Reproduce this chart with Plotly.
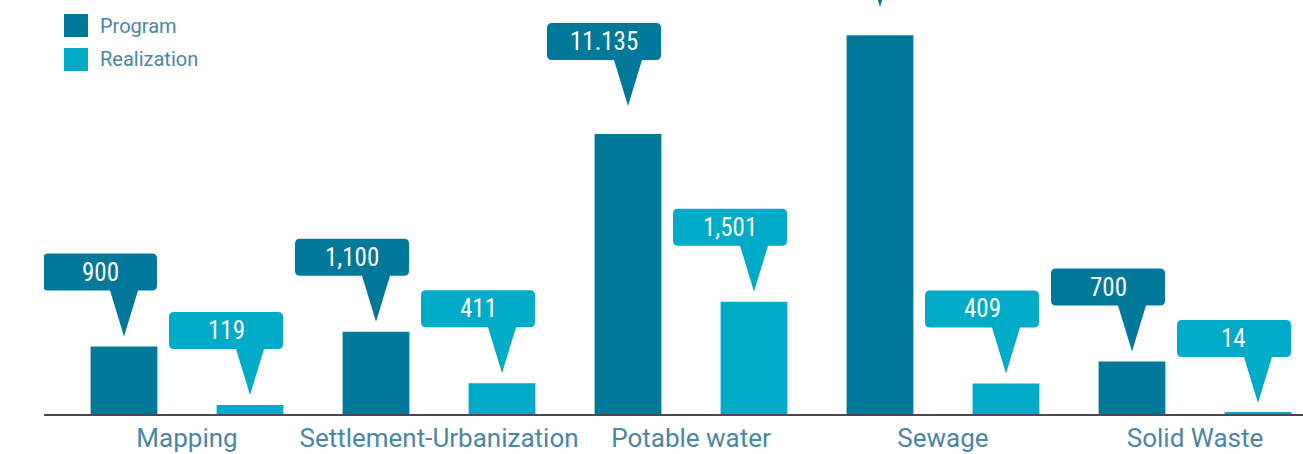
import plotly.graph_objects as go

# ---------------- data ----------------
categories = ["Mapping", "Settlement-Urbanization", "Potable water", "Sewage", "Solid Waste"]
program = [900, 1100, 3740, 5060, 700]
realization = [119, 411, 1501, 409, 14]
# the Sewage/Program label lies outside the visible picture in the source
program_labels = ["900", "1,100", "11.135", "", "700"]
realization_labels = ["119", "411", "1,501", "409", "14"]
series_names = ["Program", "Realization"]

# ---------------- style ----------------
PROGRAM_COLOR = "#00789a"
REAL_COLOR = "#00abc8"
TEXT_COLOR = "#4a86a6"
LINE_COLOR = "#4a4a4a"
NUM_FONT = "Liberation Sans Narrow, Roboto Condensed, Roboto, sans-serif"
LBL_FONT = "Roboto, Noto Sans, sans-serif"

W, H = 1303, 454
ML, MR, MT, MB = 44, 0, 0, 40
PLOT_W = W - ML - MR
PLOT_H = H - MT - MB
Y_MAX = 5530
X_RANGE = [-0.5675, 4.4286]

# callout geometry (pixels, relative to bar top; positive = up)
GAP_SHORT = 10      # stem gap above ordinary bars
GAP_TALL = 28       # stem gap above tall bars
TALL_PX = 200       # bars taller than this get the longer gap
STEM = 46
BOX_H = 37
BOX_L = -81
BOX_R = 33
STEM_HALF = 14
RAD = 5


def callout_path(gap):
    b = gap + STEM
    t = b + BOX_H
    return (
        f"M0,{gap} L{STEM_HALF},{b} L{BOX_R - RAD},{b} Q{BOX_R},{b} {BOX_R},{b + RAD} "
        f"L{BOX_R},{t - RAD} Q{BOX_R},{t} {BOX_R - RAD},{t} "
        f"L{BOX_L + RAD},{t} Q{BOX_L},{t} {BOX_L},{t - RAD} "
        f"L{BOX_L},{b + RAD} Q{BOX_L},{b} {BOX_L + RAD},{b} "
        f"L{-STEM_HALF},{b} Z"
    )


fig = go.Figure()
fig.add_bar(name=series_names[0], x=categories, y=program,
            marker=dict(color=PROGRAM_COLOR, line=dict(width=0)), showlegend=False)
fig.add_bar(name=series_names[1], x=categories, y=realization,
            marker=dict(color=REAL_COLOR, line=dict(width=0)), showlegend=False)

shapes = []
annotations = []
for series, labels, color, off in [(program, program_labels, PROGRAM_COLOR, -0.25),
                                   (realization, realization_labels, REAL_COLOR, 0.25)]:
    for i, (v, lab) in enumerate(zip(series, labels)):
        xa = i + off
        bar_px = v / Y_MAX * PLOT_H
        gap = GAP_TALL if bar_px > TALL_PX else GAP_SHORT
        shapes.append(dict(
            type="path", xref="x", yref="y",
            xsizemode="pixel", ysizemode="pixel",
            xanchor=xa, yanchor=v,
            path=callout_path(gap),
            fillcolor=color, line=dict(width=0), layer="above",
        ))
        if lab:
            annotations.append(dict(
                x=xa, y=v, xref="x", yref="y", text=lab, showarrow=False,
                xanchor="center", yanchor="middle",
                xshift=(BOX_L + BOX_R) / 2, yshift=gap + STEM + BOX_H / 2,
                font=dict(family=NUM_FONT, size=25, color="white"),
            ))


def px_x(px):
    return (px - ML) / PLOT_W


def px_y(py):
    return 1 - (py - MT) / PLOT_H


# manual legend with large square swatches
for k, (name, color) in enumerate(zip(series_names, [PROGRAM_COLOR, REAL_COLOR])):
    cy = 25.5 + 34 * k
    shapes.append(dict(type="rect", xref="paper", yref="paper",
                       x0=px_x(64), x1=px_x(88), y0=px_y(cy - 11.5), y1=px_y(cy + 11.5),
                       fillcolor=color, line=dict(width=0)))
    annotations.append(dict(x=px_x(98), y=px_y(cy), xref="paper", yref="paper",
                            text=name, showarrow=False, xanchor="left", yanchor="middle",
                            font=dict(family=LBL_FONT, size=20, color=TEXT_COLOR)))

fig.update_layout(
    width=W, height=H,
    margin=dict(l=ML, r=MR, t=MT, b=MB, pad=0),
    paper_bgcolor="white", plot_bgcolor="white",
    barmode="group", bargap=0, bargroupgap=0.47,
    shapes=shapes, annotations=annotations,
    showlegend=False,
    xaxis=dict(range=X_RANGE, showgrid=False, zeroline=False, showline=True,
               linecolor=LINE_COLOR, linewidth=1.5, ticks="",
               tickfont=dict(family=LBL_FONT, size=26, color=TEXT_COLOR)),
    yaxis=dict(range=[0, Y_MAX], visible=False, showgrid=False, zeroline=False),
)

fig.write_html("out.html")
